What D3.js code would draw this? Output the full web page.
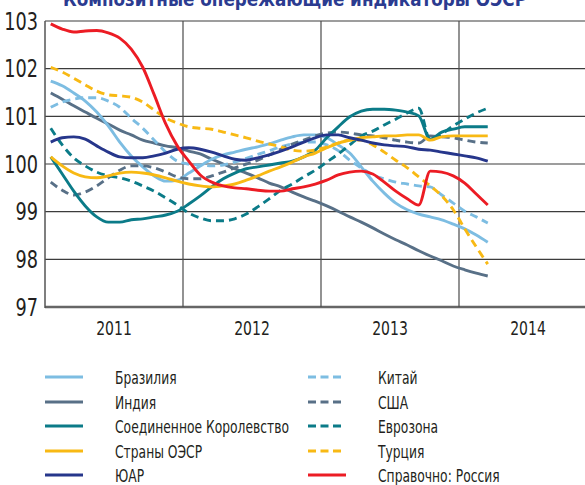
<!DOCTYPE html>
<html>
<head>
<meta charset="utf-8">
<script src="https://cdn.jsdelivr.net/npm/d3@7"></script>
<style>
  body { margin: 0; background: #fff; }
  svg text { font-family: "DejaVu Sans Condensed", sans-serif; fill: #231f20; }
</style>
</head>
<body>
<div id="chart"></div>
<script>
// monthly values, Jan 2011 - Mar 2014
var years = ["2011", "2012", "2013", "2014"];
var yTicks = [97, 98, 99, 100, 101, 102, 103];

var brazil = [101.74,101.64,101.49,101.32,101.09,100.8,100.46,100.17,99.94,99.75,99.64,99.66,
  99.81,99.96,100.1,100.19,100.25,100.31,100.36,100.42,100.5,100.57,100.61,100.61,
  100.55,100.4,100.23,99.94,99.64,99.39,99.18,99.04,98.95,98.89,98.83,98.74,98.64,98.51,98.36];
var india = [101.49,101.36,101.22,101.09,100.96,100.84,100.71,100.61,100.5,100.44,100.38,100.34,
  100.27,100.21,100.1,100.0,99.9,99.81,99.71,99.6,99.52,99.41,99.31,99.22,
  99.12,99.01,98.89,98.78,98.66,98.53,98.41,98.3,98.18,98.07,97.97,97.86,97.78,97.71,97.65];
var uk = [100.15,99.79,99.43,99.12,98.89,98.78,98.78,98.83,98.85,98.89,98.93,99.01,
  99.16,99.33,99.52,99.69,99.81,99.9,99.94,99.98,100.02,100.06,100.15,100.29,
  100.55,100.78,100.99,101.11,101.15,101.15,101.13,101.09,101.01,100.52,100.67,100.73,100.78,100.78,100.78];
var oecd = [100.15,99.96,99.81,99.73,99.71,99.75,99.81,99.83,99.81,99.77,99.71,99.64,
  99.58,99.54,99.52,99.54,99.58,99.66,99.75,99.85,99.94,100.04,100.15,100.23,
  100.34,100.44,100.5,100.55,100.57,100.59,100.59,100.61,100.61,100.5,100.57,100.59,100.59,100.59,100.59];
var sar = [100.46,100.55,100.57,100.52,100.38,100.25,100.15,100.13,100.13,100.17,100.23,100.31,
  100.34,100.31,100.25,100.17,100.1,100.08,100.13,100.19,100.27,100.36,100.46,100.55,
  100.61,100.61,100.55,100.5,100.44,100.4,100.38,100.36,100.31,100.29,100.25,100.21,100.17,100.13,100.06];
var china = [101.19,101.3,101.36,101.39,101.39,101.32,101.19,100.96,100.75,100.5,100.25,100.06,
  100.0,99.98,99.96,99.98,100.04,100.12,100.2,100.28,100.36,100.42,100.46,100.46,
  100.4,100.28,100.08,99.92,99.77,99.69,99.62,99.58,99.54,99.52,99.35,99.18,99.01,98.89,98.76];
var usa = [99.62,99.45,99.35,99.41,99.54,99.71,99.87,99.96,99.96,99.92,99.83,99.73,
  99.69,99.69,99.75,99.83,99.92,100.0,100.08,100.19,100.31,100.42,100.5,100.59,
  100.65,100.67,100.65,100.61,100.59,100.55,100.5,100.46,100.44,100.59,100.57,100.55,100.5,100.46,100.44];
var eurozone = [100.75,100.4,100.13,99.96,99.83,99.75,99.71,99.64,99.54,99.43,99.29,99.14,
  98.97,98.87,98.81,98.81,98.85,98.95,99.1,99.27,99.45,99.58,99.73,99.87,
  100.04,100.21,100.4,100.59,100.69,100.82,100.94,101.07,101.17,100.5,100.63,100.8,100.94,101.07,101.17];
var turkey = [102.03,101.93,101.8,101.66,101.53,101.45,101.43,101.4,101.3,101.13,100.96,100.86,
  100.78,100.75,100.73,100.67,100.61,100.55,100.48,100.42,100.36,100.29,100.27,100.29,
  100.36,100.44,100.5,100.5,100.4,100.25,100.08,99.92,99.73,99.54,99.33,99.04,98.64,98.26,97.9];
var russia = [102.94,102.83,102.77,102.79,102.8,102.75,102.64,102.41,102.03,101.45,100.84,100.38,
  100.06,99.77,99.62,99.54,99.5,99.48,99.45,99.43,99.43,99.48,99.52,99.58,
  99.66,99.77,99.83,99.85,99.79,99.62,99.43,99.27,99.14,99.85,99.83,99.75,99.6,99.37,99.14];

var series = [
  {name: "Бразилия", values: brazil, color: "#7dbde2", dash: null},
  {name: "Индия", values: india, color: "#587087", dash: null},
  {name: "Соединенное Королевство", values: uk, color: "#0b7b88", dash: null},
  {name: "Страны ОЭСР", values: oecd, color: "#f8b914", dash: null},
  {name: "ЮАР", values: sar, color: "#26368b", dash: null},
  {name: "Китай", values: china, color: "#7dbde2", dash: "8,5"},
  {name: "США", values: usa, color: "#587087", dash: "8,5"},
  {name: "Еврозона", values: eurozone, color: "#0b7b88", dash: "8,5"},
  {name: "Турция", values: turkey, color: "#f8b914", dash: "8,5"},
  {name: "Справочно: Россия", values: russia, color: "#ec1c24", dash: null}
];

var width = 585, height = 485;
var plotLeft = 45, plotTop = 21, plotBottom = 307;
var yearWidth = 138;

var svg = d3.select("#chart").append("svg")
  .attr("width", width)
  .attr("height", height);

// condensed look: squeeze text horizontally
function narrow(sel, px, py, sx) {
  return sel.attr("transform", function(d, i) {
    return "translate(" + px(d, i) + "," + py(d, i) + ") scale(" + sx + ",1)";
  });
}

// title, cut off by the top edge
svg.append("text")
  .attr("x", 295)
  .attr("y", 5.5)
  .attr("text-anchor", "middle")
  .style("font-weight", "bold")
  .style("font-size", "19px")
  .style("fill", "#2b3b90")
  .attr("textLength", 464)
  .attr("lengthAdjust", "spacingAndGlyphs")
  .text("Композитные опережающие индикаторы ОЭСР");

var x = d3.scaleLinear()
  .domain([0, 48])
  .range([plotLeft, plotLeft + yearWidth * 4]);

var y = d3.scaleLinear()
  .domain([97, 103])
  .range([plotBottom, plotTop]);

// horizontal grid
svg.append("g")
  .selectAll("line")
  .data(yTicks)
  .enter().append("line")
  .attr("x1", plotLeft)
  .attr("x2", width)
  .attr("y1", function(d) { return y(d); })
  .attr("y2", function(d) { return y(d); })
  .attr("stroke", function(d) { return d === 97 ? "#666" : "#3c3c3c"; })
  .attr("stroke-width", function(d) { return d === 97 ? 2.5 : 1.2; });

// year separators
svg.append("g")
  .selectAll("line")
  .data([1, 2, 3])
  .enter().append("line")
  .attr("x1", function(d) { return x(d * 12); })
  .attr("x2", function(d) { return x(d * 12); })
  .attr("y1", plotTop)
  .attr("y2", plotBottom)
  .attr("stroke", "#4a4a4a")
  .attr("stroke-width", 1.2);

svg.append("line")
  .attr("x1", plotLeft).attr("x2", plotLeft)
  .attr("y1", plotTop).attr("y2", plotBottom + 1)
  .attr("stroke", "#555")
  .attr("stroke-width", 1.5);

// y labels
narrow(svg.append("g")
  .selectAll("text")
  .data(yTicks)
  .enter().append("text"),
  function() { return 38; }, function(d) { return y(d); }, 0.82)
  .attr("dy", "0.36em")
  .attr("text-anchor", "end")
  .style("font-size", "24px")
  .text(function(d) { return d; });

// year labels
narrow(svg.append("g")
  .selectAll("text")
  .data(years)
  .enter().append("text"),
  function(d, i) { return x(i * 12 + 6); }, function() { return 328; }, 0.82)
  .attr("dy", "0.36em")
  .attr("text-anchor", "middle")
  .style("font-size", "19px")
  .text(function(d) { return d; });

var line = d3.line()
  .x(function(d, i) { return x(i + 0.5); })
  .y(function(d) { return y(d); })
  .curve(d3.curveMonotoneX);

// draw order: back to front
var order = [1, 0, 5, 6, 7, 2, 3, 8, 4, 9];
svg.append("g")
  .selectAll("path")
  .data(order.map(function(k) { return series[k]; }))
  .enter().append("path")
  .attr("d", function(d) { return line(d.values); })
  .attr("fill", "none")
  .attr("stroke", function(d) { return d.color; })
  .attr("stroke-width", 2.9)
  .attr("stroke-dasharray", function(d) { return d.dash; });

// legend
var legendRows = [377, 402, 426, 451, 475];
var legend = svg.append("g")
  .selectAll("g")
  .data(series)
  .enter().append("g")
  .attr("transform", function(d, i) {
    var col = Math.floor(i / 5);
    return "translate(" + (col === 0 ? 45 : 308) + "," + legendRows[i % 5] + ")";
  });

legend.append("line")
  .attr("x1", 0)
  .attr("x2", function(d) { return d.dash ? 34 : 38; })
  .attr("stroke", function(d) { return d.color; })
  .attr("stroke-width", 3)
  .attr("stroke-dasharray", function(d) { return d.dash ? "8,4.5" : null; });

legend.append("text")
  .attr("transform", "translate(70,0) scale(0.74,1)")
  .attr("dy", "0.36em")
  .style("font-size", "18.5px")
  .text(function(d) { return d.name; });
</script>
</body>
</html>
